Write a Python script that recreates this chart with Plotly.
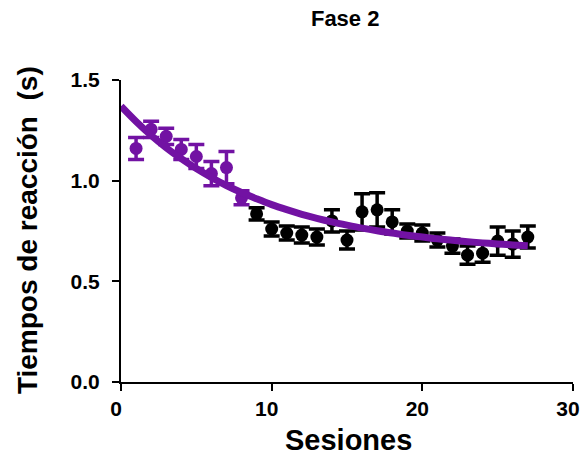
import plotly.graph_objects as go

# Fase 2 - reaction times per session
ses_a = [1, 2, 3, 4, 5, 6, 7, 8]
rt_a = [1.16, 1.255, 1.22, 1.155, 1.12, 1.035, 1.065, 0.915]
err_a = [0.055, 0.04, 0.04, 0.05, 0.06, 0.06, 0.08, 0.035]

ses_b = [9, 10, 11, 12, 13, 14, 15, 16, 17, 18, 19, 20, 21, 22, 23, 24, 25, 26, 27]
rt_b = [0.835, 0.76, 0.74, 0.73, 0.72, 0.80, 0.705, 0.845, 0.855, 0.795,
        0.75, 0.74, 0.705, 0.675, 0.63, 0.64, 0.70, 0.685, 0.72]
err_b = [0.03, 0.035, 0.035, 0.04, 0.04, 0.055, 0.045, 0.09, 0.085, 0.06,
         0.035, 0.04, 0.035, 0.035, 0.045, 0.045, 0.07, 0.065, 0.055]

# fitted decay curve
fit_x = [0, 1, 2, 3, 4, 5, 6, 7, 8, 9, 10, 11, 12, 13, 14,
         15, 16, 17, 18, 19, 20, 21, 22, 23, 24, 25, 26, 27]
fit_y = [1.37, 1.294, 1.225, 1.164, 1.109, 1.06, 1.016, 0.976, 0.941, 0.91,
         0.881, 0.856, 0.833, 0.813, 0.795, 0.779, 0.764, 0.751, 0.74, 0.729,
         0.72, 0.711, 0.704, 0.697, 0.691, 0.686, 0.681, 0.677]

purple = "#7212A3"
font = "Liberation Sans, Arial, sans-serif"

fig = go.Figure()

fig.add_trace(go.Scatter(
    x=ses_b, y=rt_b, mode="markers",
    marker=dict(color="black", size=13),
    error_y=dict(type="data", array=err_b, color="black", thickness=3.5, width=8)
))
fig.add_trace(go.Scatter(
    x=ses_a, y=rt_a, mode="markers",
    marker=dict(color=purple, size=13),
    error_y=dict(type="data", array=err_a, color=purple, thickness=3.5, width=8)
))
fig.add_trace(go.Scatter(
    x=fit_x, y=fit_y, mode="lines",
    line=dict(color=purple, width=7, shape="spline")
))

tickfont = dict(size=21, family=font, color="black", weight="bold")

fig.update_layout(
    width=582, height=459,
    margin=dict(l=121, r=9, t=80, b=77),
    paper_bgcolor="white", plot_bgcolor="white",
    showlegend=False,
    font=dict(family=font, color="black"),
    title=dict(text="<b>Fase 2</b>", xref="paper", x=0.496, xanchor="center",
               y=0.961, yanchor="middle",
               font=dict(size=22, family=font, color="black")),
    xaxis=dict(
        range=[0, 30], tickvals=[0, 10, 20, 30],
        showline=True, linecolor="black", linewidth=2,
        ticks="outside", ticklen=7, tickwidth=2, tickcolor="black",
        showgrid=False, zeroline=False, automargin=False,
        tickfont=tickfont, ticklabelstandoff=0, ticklabelshift=-5,
        ticklabeloverflow="allow",
    ),
    yaxis=dict(
        range=[0, 1.5], tickvals=[0, 0.5, 1.0, 1.5], tickformat=".1f",
        showline=True, linecolor="black", linewidth=2,
        ticks="outside", ticklen=7, tickwidth=2, tickcolor="black",
        showgrid=False, zeroline=False, automargin=False,
        tickfont=tickfont, ticklabelstandoff=8,
    ),
    annotations=[
        dict(text="<b>Sesiones</b>", xref="paper", yref="paper", x=0.504, y=-0.192,
             xanchor="center", yanchor="middle", showarrow=False,
             font=dict(size=29, family=font, color="black")),
        dict(text="<b>Tiempos de reacción\u00a0 (s)</b>", xref="paper", yref="paper",
             x=-0.208, y=0.503, xanchor="center", yanchor="middle", textangle=-90,
             showarrow=False, font=dict(size=28, family=font, color="black")),
    ],
)

# drop the default 8px body margin so the figure fills the window exactly
fig.write_html("out.html", config={"displayModeBar": False},
               post_script=["document.body.style.margin = '0';"])
